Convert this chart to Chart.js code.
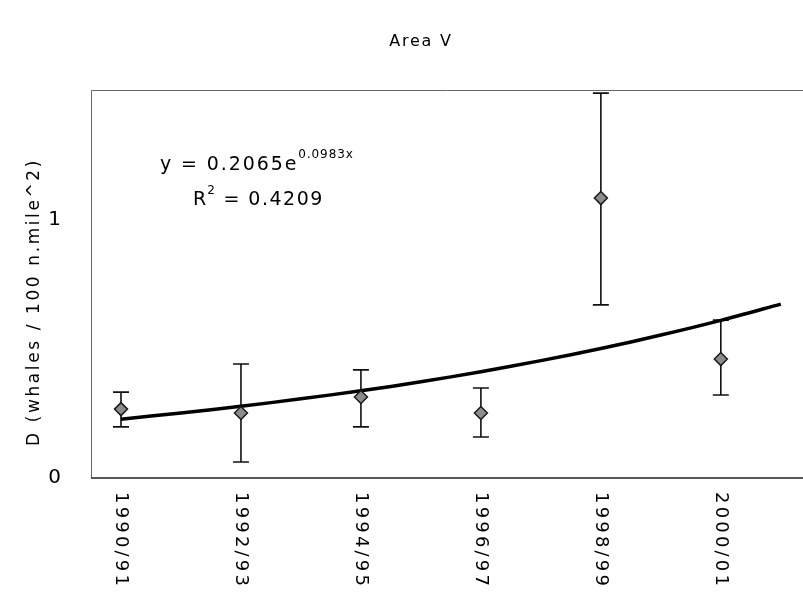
<!DOCTYPE html>
<html>
<head>
<meta charset="utf-8">
<title>Area V</title>
<script src="https://cdn.jsdelivr.net/npm/chart.js@4.4.1/dist/chart.umd.min.js"></script>
<style>
  body { margin: 0; background: #fff; }
  canvas { display: block; }
</style>
</head>
<body>
<canvas id="areaChart" width="803" height="596"></canvas>
<script>
// Survey seasons (every other season) and their position on the season axis
const seasons = ["1990/91", "1992/93", "1994/95", "1996/97", "1998/99", "2000/01"]
const seasonIndex = [1, 3, 5, 7, 9, 11]

// Density estimates with their lower / upper bars
const density = [0.267, 0.252, 0.314, 0.252, 1.085, 0.461]
const lowerBar = [0.198, 0.062, 0.198, 0.159, 0.671, 0.322]
const upperBar = [0.333, 0.442, 0.419, 0.349, 1.492, 0.612]

// Exponential trend line at each season
const trendIndex = [1, 2, 3, 4, 5, 6, 7, 8, 9, 10, 11, 12]
const trendValues = [0.228, 0.252, 0.278, 0.307, 0.338, 0.373, 0.412, 0.455, 0.502, 0.554, 0.611, 0.674]

const yTicks = [0, 1]

const FONT = "'DejaVu Sans', 'Liberation Sans', sans-serif"

function spacedText(ctx, text, x, y, size, spacing, align) {
  ctx.font = size + "px " + FONT
  ctx.letterSpacing = spacing + "px"
  ctx.textAlign = align || "left"
  ctx.fillText(text, x, y)
  const w = ctx.measureText(text).width
  ctx.letterSpacing = "0px"
  return w
}

// Error bars, drawn under the markers
const errorBars = {
  id: "errorBars",
  beforeDatasetsDraw(chart) {
    const { ctx, scales } = chart
    ctx.save()
    ctx.strokeStyle = "#111"
    ctx.lineWidth = 1.6
    seasonIndex.forEach((s, i) => {
      const x = scales.x.getPixelForValue(s)
      const yl = scales.y.getPixelForValue(lowerBar[i])
      const yu = scales.y.getPixelForValue(upperBar[i])
      ctx.beginPath()
      ctx.moveTo(x, yl)
      ctx.lineTo(x, yu)
      ctx.moveTo(x - 8, yl)
      ctx.lineTo(x + 8, yl)
      ctx.moveTo(x - 8, yu)
      ctx.lineTo(x + 8, yu)
      ctx.stroke()
    })
    ctx.restore()
  },
}

// Frame, title, axis title, season labels and trend equation
const decorations = {
  id: "decorations",
  afterDraw(chart) {
    const { ctx, chartArea, scales } = chart
    ctx.save()

    // plot frame
    ctx.lineWidth = 1
    ctx.strokeStyle = "#666"
    ctx.beginPath()
    ctx.moveTo(chartArea.left + 0.5, chartArea.bottom)
    ctx.lineTo(chartArea.left + 0.5, chartArea.top + 0.5)
    ctx.lineTo(chartArea.right, chartArea.top + 0.5)
    ctx.stroke()
    ctx.strokeStyle = "#222"
    ctx.lineWidth = 1.5
    ctx.beginPath()
    ctx.moveTo(chartArea.left, chartArea.bottom)
    ctx.lineTo(chartArea.right, chartArea.bottom)
    ctx.stroke()

    ctx.fillStyle = "#000"
    ctx.textBaseline = "middle"

    // chart title
    spacedText(ctx, "Area V", 421, 42, 16, 1.8, "center")

    // y axis title, reading upwards
    ctx.save()
    ctx.translate(35, 302)
    ctx.rotate(-Math.PI / 2)
    spacedText(ctx, "D (whales / 100 n.mile^2)", 0, 0, 17, 2.6, "center")
    ctx.restore()

    // season labels, reading downwards
    seasons.forEach((label, i) => {
      const x = scales.x.getPixelForValue(seasonIndex[i])
      ctx.save()
      ctx.translate(x, 492)
      ctx.rotate(Math.PI / 2)
      spacedText(ctx, label, 0, 0, 18, 3.2, "left")
      ctx.restore()
    })

    // trend equation
    let w = spacedText(ctx, "y = 0.2065e", 160, 165, 19, 1.9, "left")
    spacedText(ctx, "0.0983x", 160 + w, 155, 12, 0.9, "left")
    w = spacedText(ctx, "R", 193, 200, 19, 1, "left")
    const w2 = spacedText(ctx, "2", 193 + w, 191, 12, 1, "left")
    spacedText(ctx, " = 0.4209", 193 + w + w2, 200, 19, 1.5, "left")

    ctx.restore()
  },
}

const ctx = document.getElementById("areaChart").getContext("2d")
new Chart(ctx, {
  type: "scatter",
  data: {
    datasets: [
      {
        label: "D",
        data: seasonIndex.map((s, i) => ({ x: s, y: density[i] })),
        pointStyle: "rectRot",
        pointRadius: 6.5,
        backgroundColor: "#8c8c8c",
        borderColor: "#1a1a1a",
        borderWidth: 1.5,
      },
      {
        label: "trend",
        type: "line",
        data: trendIndex.map((s, i) => ({ x: s, y: trendValues[i] })),
        borderColor: "#000",
        borderWidth: 3.5,
        pointRadius: 0,
        tension: 0.3,
        fill: false,
      },
    ],
  },
  options: {
    responsive: false,
    animation: false,
    layout: {
      autoPadding: false,
      padding: { top: 90, bottom: 118, left: 0, right: 0 },
    },
    plugins: {
      legend: { display: false },
      tooltip: { enabled: false },
      title: { display: false },
    },
    scales: {
      x: {
        type: "linear",
        min: 0.5,
        max: 12.37,
        display: false,
      },
      y: {
        min: 0,
        max: 1.504,
        afterFit: (scale) => {
          scale.width = 91
        },
        afterBuildTicks: (scale) => {
          scale.ticks = yTicks.map((v) => ({ value: v }))
        },
        ticks: {
          color: "#000",
          padding: 30,
          font: { family: FONT, size: 20 },
        },
        grid: { display: false, drawTicks: false },
        border: { display: false },
      },
    },
  },
  plugins: [errorBars, decorations],
})
</script>
</body>
</html>
